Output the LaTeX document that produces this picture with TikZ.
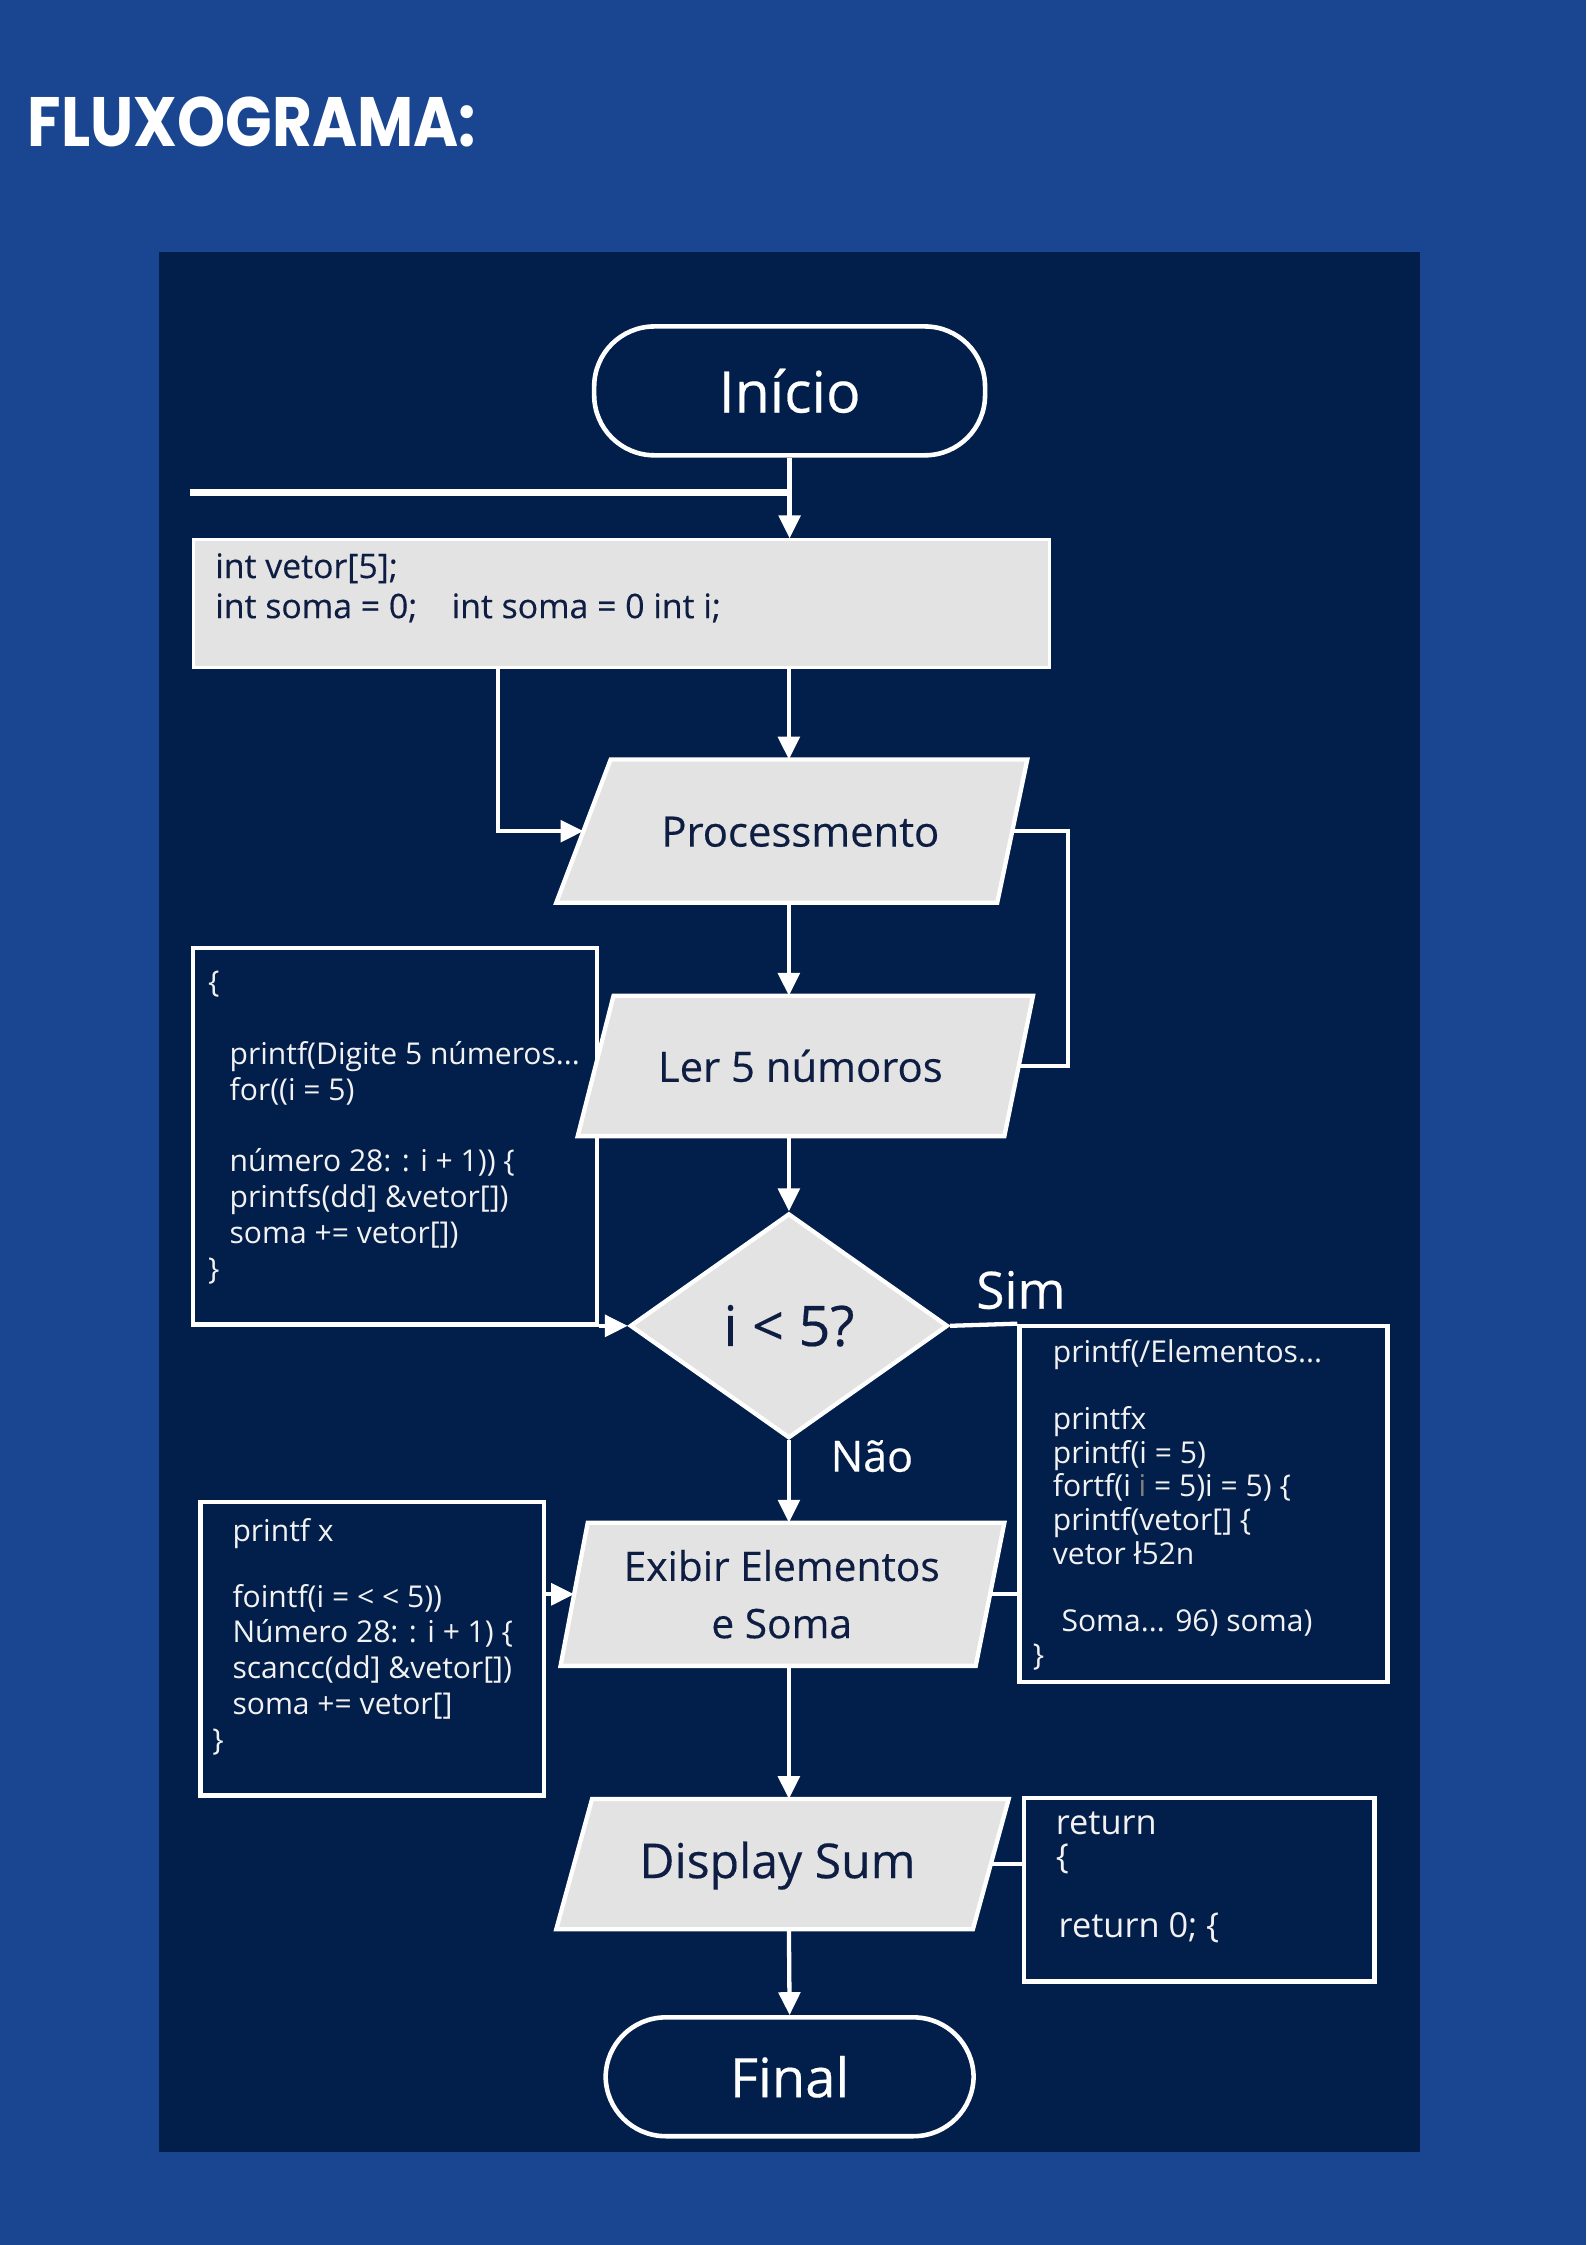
\documentclass[tikz,border=0pt]{standalone}
\usepackage{fontspec}
\setmainfont{Open Sans}
\newfontfamily\titlefont{Poppins}
\newfontfamily\labelfont{Open Sans}[FakeBold=0.35]
\usetikzlibrary{shapes.geometric,arrows.meta}
\definecolor{outerblue}{HTML}{1A4591}
\definecolor{panel}{HTML}{021E4A}
\definecolor{shapefill}{HTML}{E3E3E3}
\definecolor{ink}{HTML}{0E1D42}
\definecolor{codewhite}{HTML}{F2F2F2}
% draws a slanted box round the named frame node: #1 name, #2 left half-slant, #3 right half-slant
\newcommand{\drawslant}[3]{\draw[slantshape] ([xshift=#2]#1.north west) -- ([xshift=#3]#1.north east) -- ([xshift=-#3]#1.south east) -- ([xshift=-#2]#1.south west) -- cycle;}
\begin{document}
\begin{tikzpicture}[x=0.5pt,y=-0.5pt,
  conn/.style={draw=white,line width=1.5pt},
  arr/.style={conn,-{Triangle[length=8pt,width=7.5pt]}},
  term/.style={draw=white,line width=1.6pt,fill=panel,rounded corners=21pt,text=white,inner sep=0pt},
  frame/.style={rectangle,inner sep=0pt,outer sep=0.75pt},
  slantshape/.style={draw=white,line width=1.5pt,fill=shapefill},
  slanttext/.style={text=ink,inner sep=0pt,align=center},
  codebox/.style={draw=white,line width=1.5pt,fill=panel,inner sep=0pt},
  codetext/.style={anchor=north west,inner sep=0pt,text=codewhite,align=left},
  lbl/.style={text=white,inner sep=0pt}
]
\useasboundingbox (0,0) rectangle (1108,1568);
\fill[outerblue] (0,0) rectangle (1108,1568);
\fill[panel] (111,176) rectangle (992,1503);
\node[lbl,anchor=west] (title) at (19,85) {\resizebox{156.5pt}{\height}{\titlefont\bfseries\fontsize{24.4}{29}\selectfont FLUXOGRAMA:}};

% code boxes
\node[codebox,minimum width=141pt,minimum height=131.5pt] (code1) at (276,793.5) {};
\node[codetext,font=\fontsize{10.5}{12.5}\selectfont] (code1text) at (145,678) {\{\\[12.5pt]
\hspace*{7.5pt}printf(Digite 5 números...\\
\hspace*{7.5pt}for((i = 5)\\[12.5pt]
\hspace*{7.5pt}número 28: : i + 1)) \{\\
\hspace*{7.5pt}printfs(dd] \&vetor[])\\
\hspace*{7.5pt}soma += vetor[])\\
\}};
\node[codebox,minimum width=128.5pt,minimum height=124.5pt] (code2) at (840.5,1050.5) {};
\node[codetext,font=\fontsize{10.5}{11.75}\selectfont] (code2text) at (721,935) {\hspace*{7pt}printf(/Elementos...\\[11.75pt]
\hspace*{7pt}printfx\\
\hspace*{7pt}printf(i = 5)\\
\hspace*{7pt}fortf(i {\color{gray}i} = 5)i = 5) \{\\
\hspace*{7pt}printf(vetor[] \{\\
\hspace*{7pt}vetor ł52n\\[11.75pt]
\hspace*{10pt}Soma... 96) soma)\\
\}};
\node[codebox,minimum width=120pt,minimum height=102.5pt] (code3) at (260,1151.5) {};
\node[codetext,font=\fontsize{10.5}{12.5}\selectfont] (code3text) at (148,1060) {\hspace*{7pt}printf x\\[10.5pt]
\hspace*{7pt}fointf(i = < < 5))\\
\hspace*{7pt}Número 28: : i + 1) \{\\
\hspace*{7pt}scancc(dd] \&vetor[])\\
\hspace*{7pt}soma += vetor[]\\
\}};
\node[codebox,minimum width=122.5pt,minimum height=64pt] (code4) at (837.5,1320) {};
\node[codetext,font=\fontsize{12}{12}\selectfont] (code4text) at (737,1265) {return\\
\{\\[12pt]
\hspace*{1pt}return 0; \{};

% main flow
\node[term,minimum width=136.5pt,minimum height=45pt,font=\labelfont\fontsize{20}{24}\selectfont] (start) at (551.5,273) {Início};
\node[fill=shapefill,draw=white,line width=1pt,minimum width=299pt,minimum height=44.5pt,inner sep=0pt] (decl) at (434,421.5) {};
\node[codetext,text=ink,font=\labelfont\fontsize{11.8}{14}\selectfont] (decltext) at (150,386) {int vetor[5];\\int soma = 0;\hspace{12pt}int soma = 0 int i;};

\node[frame,minimum width=148.25pt,minimum height=48.5pt] (proc) at (557.25,580.5) {};
\drawslant{proc}{9.5pt}{5.25pt}
\node[slanttext,font=\labelfont\fontsize{14.6}{17}\selectfont] (proctext) at (559,581) {Processmento};

\node[frame,minimum width=146.25pt,minimum height=47.5pt] (ler) at (563.75,744.5) {};
\drawslant{ler}{6.25pt}{5pt}
\node[slanttext,font=\labelfont\fontsize{14.6}{17}\selectfont] (lertext) at (559,744.5) {Ler 5 númoros};

\node[diamond,draw=white,line width=1.5pt,fill=shapefill,text=ink,minimum width=111pt,minimum height=78.5pt,inner sep=0pt,font=\labelfont\fontsize{19.5}{22}\selectfont] (dec) at (551,926) {i < 5?};

\node[frame,minimum width=143.75pt,minimum height=48.5pt] (exib) at (546.25,1113.5) {};
\drawslant{exib}{4.75pt}{5pt}
\node[slanttext,font=\labelfont\fontsize{14.2}{20}\selectfont] (exibtext) at (546,1113.5) {Exibir Elementos\\e Soma};

\node[frame,minimum width=144pt,minimum height=44pt] (disp) at (546.5,1302) {};
\drawslant{disp}{6.25pt}{6.25pt}
\node[slanttext,font=\labelfont\fontsize{16.8}{20}\selectfont] (disptext) at (543,1303) {Display Sum};

\node[term,minimum width=128.5pt,minimum height=41.5pt,font=\labelfont\fontsize{19}{22}\selectfont] (fim) at (551.5,1450.5) {Final};

\node[lbl,font=\labelfont\fontsize{18}{20}\selectfont] (sim) at (713,901) {Sim};
\node[lbl,font=\labelfont\fontsize{15}{18}\selectfont] (nao) at (609,1017) {Não};

% connectors
\coordinate (col) at (551,0);
\coordinate (feed) at (133,344);
\coordinate (loopL) at (348,0);
\coordinate (loopR) at (746,0);
\draw[conn,line width=2.2pt] (feed) -- (feed -| start.south);
\draw[arr] (start.south) -- (start.south |- decl.north);
\draw[arr] (decl.south -| col) -- (proc.north -| col);
\draw[arr] (decl.south -| loopL) -- (loopL |- proc.west) -- (proc.west);
\draw[conn] (proc.east) -- (proc.east -| loopR) -- (ler.east -| loopR) -- (ler.east);
\draw[arr] (proc.south -| col) -- (ler.north -| col);
\draw[arr] (ler.south -| col) -- (dec.north);
\draw[arr] (code1.south east |- dec.west) -- (dec.west);
\draw[conn] (dec.east) -- (code2.north west);
\draw[arr] (dec.south) -- (dec.south |- exib.north);
\draw[arr] (code3.east |- exib.west) -- (exib.west);
\draw[conn] (exib.east) -- (exib.east -| code2.west);
\draw[arr] (exib.south -| col) -- (disp.north -| col);
\draw[conn] (disp.east) -- (disp.east -| code4.west);
\draw[arr] (disp.south -| col) -- (fim.north);
\end{tikzpicture}
\end{document}
